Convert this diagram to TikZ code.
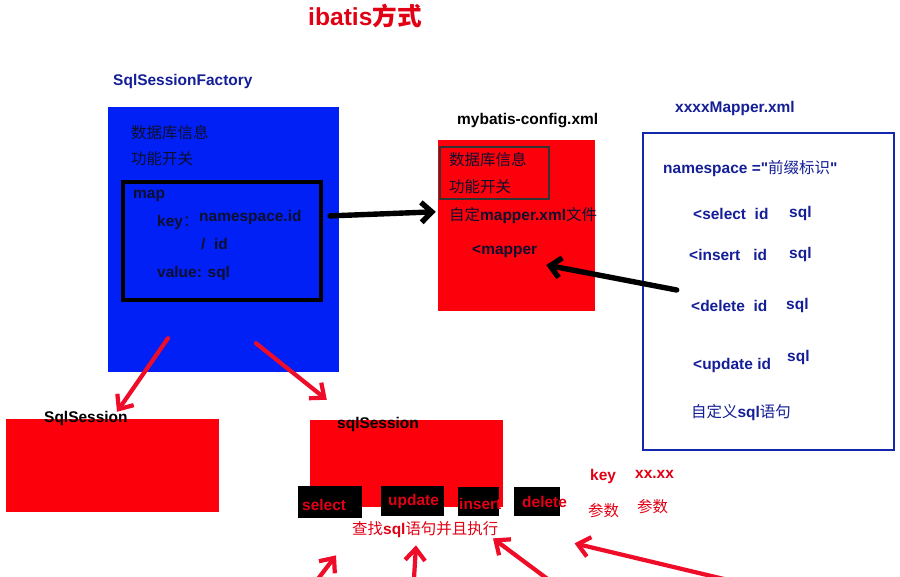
\documentclass[tikz,border=0pt]{standalone}
\usepackage{fontspec}
\setmainfont{Liberation Sans}[Ligatures=TeXOff]
\newfontfamily\cjk{Noto Sans CJK SC}
\usetikzlibrary{arrows.meta,fit,calc}
\newcommand\zh[1]{{\mdseries\cjk #1}}
\newcommand\zhb[1]{{\cjk\bfseries #1}}
\definecolor{bfill}{RGB}{0,32,245}
\definecolor{rfill}{RGB}{252,0,12}
\definecolor{dkblue}{RGB}{20,30,150}
\definecolor{outblue}{RGB}{20,40,175}
\definecolor{arrowred}{RGB}{238,12,40}
\definecolor{textred}{RGB}{225,0,20}
\definecolor{darktxt}{RGB}{15,15,45}
\tikzset{
  lbl/.style={anchor=west, inner sep=0pt, font=\fontsize{13.2}{15}\selectfont\bfseries},
  area/.style={inner sep=0pt, draw=none},
  blkarrow/.style={draw=black, line width=4.6pt, line cap=round, -{Straight Barb[length=9pt,width=17pt]}},
  redarrow/.style={draw=arrowred, line width=3.6pt, line cap=round, -{Straight Barb[length=10pt,width=17pt]}},
  opbox/.style={fill=black, inner sep=0pt, draw=none},
  optxt/.style={lbl, text=textred},
}
\begin{document}
\begin{tikzpicture}[x=0.03cm, y=-0.03cm]
\clip (0,0) rectangle (900,576);
\fill[white] (0,0) rectangle (900,576);

% title
\node[lbl, text=textred, font=\fontsize{21}{23}\selectfont\bfseries] (title) at (308,16) {ibatis\zhb{方式}};

% SqlSessionFactory
\node[lbl, text=dkblue] (sfLabel) at (113,81) {SqlSessionFactory};
\node[area, fill=bfill, fit={(108,107) (339,372)}] (sf) {};
\node[lbl, text=darktxt] (sfdb) at (131,133) {\zh{数据库信息}};
\node[lbl, text=darktxt] (sffn) at (131,159) {\zh{功能开关}};
\node[area, draw=black, line width=3.6pt, fit={(123,182) (321,300)}] (map) {};
\node[lbl, text=darktxt] (maplbl) at (133,196) {map};
\node[lbl, text=darktxt] (keylbl) at (157,222) {key\zh{：}};
\node[lbl, text=darktxt] (nsid) at (199,217) {namespace.id};
\node[lbl, text=darktxt] (slid) at (201,244) {/\ \ id};
\node[lbl, text=darktxt] (vallbl) at (157,273) {value: sql};

% mybatis-config.xml
\node[lbl, text=black] (cfgLabel) at (457,121) {mybatis-config.xml};
\node[area, fill=rfill, fit={(438,140) (595,311)}] (rc) {};
\node[area, draw=black!80, line width=1.4pt, fit={(440,147) (549,199)}] (rcin) {};
\node[lbl, text=darktxt] (rcdb) at (449,160) {\zh{数据库信息}};
\node[lbl, text=darktxt] (rcfn) at (449,187) {\zh{功能开关}};
\node[lbl, text=darktxt] (rcmx) at (449,216) {\zh{自定}mapper.xml\zh{文件}};
\node[lbl, text=darktxt] (rcmp) at (472,251) {<mapper};

% xxxxMapper.xml
\node[lbl, text=dkblue] (mxLabel) at (675,108) {xxxxMapper.xml};
\node[area, draw=outblue, line width=2.2pt, fit={(643,133) (894,450)}] (mx) {};
\node[lbl, text=dkblue] (ns) at (663,169) {namespace ="\zh{前缀标识}"};
\node[lbl, text=dkblue] (sel) at (693,214) {<select\ \ id};
\node[lbl, text=dkblue] (selsql) at (789,213) {sql};
\node[lbl, text=dkblue] (ins) at (689,255) {<insert\ \ \ id};
\node[lbl, text=dkblue] (inssql) at (789,254) {sql};
\node[lbl, text=dkblue] (del) at (691,306) {<delete\ \ id};
\node[lbl, text=dkblue] (delsql) at (786,305) {sql};
\node[lbl, text=dkblue] (upd) at (693,365) {<update id};
\node[lbl, text=dkblue] (updsql) at (787,357) {sql};
\node[lbl, text=dkblue] (custom) at (691,413) {\zh{自定义}sql\zh{语句}};

% sessions
\node[area, fill=rfill, fit={(6,419) (219,512)}] (ss1) {};
\node[lbl, text=black] (ss1lbl) at (44,418) {SqlSession};
\node[area, fill=rfill, fit={(310,420) (503,507)}] (ss2) {};
\node[lbl, text=black] (ss2lbl) at (337,424) {sqlSession};

% operation boxes
\node[opbox, fit={(298,486) (362,518)}] (bsel) {};
\node[opbox, fit={(381,486) (444,516)}] (bupd) {};
\node[opbox, fit={(458,487) (499,516)}] (bins) {};
\node[opbox, fit={(514,487) (560,516)}] (bdel) {};
\node[optxt] (tsel) at (302,505) {select};
\node[optxt] (tupd) at (388,501) {update};
\node[optxt] (tins) at (459,504) {insert};
\node[optxt] (tdel) at (522,502) {delete};

\node[lbl, text=textred] (find) at (352,530) {\zh{查找}sql\zh{语句并且执行}};

\node[lbl, text=textred] (keyr) at (590,476) {key};
\node[lbl, text=textred] (xxr) at (635,474) {xx.xx};
\node[lbl, text=textred] (par1) at (588,511) {\zh{参数}};
\node[lbl, text=textred] (par2) at (637,507) {\zh{参数}};

% black arrows
\draw[blkarrow] ($(map.north east)+(7,36)$) -- ($(rc.north west)+(-2,72)$);
\draw[blkarrow] ($(mx.west)+(35,-1.5)$) -- ($(rc.east)+(-49,39.5)$);

% red arrows from factory
\draw[redarrow] ($(sf.south)+(-55.5,-34)$) -- ($(ss1.north)+(4.5,-7)$);
\draw[redarrow] ($(sf.south)+(32.5,-29)$) -- ($(ss2.north west)+(17,-20)$);

% bottom red arrows
\coordinate (b1) at (308,592);
\coordinate (b2) at (413,595);
\coordinate (b3) at (565,592);
\coordinate (b4) at (770,590);
\draw[redarrow] (b1) -- ($(find.south west)+(-16,17)$);
\draw[redarrow] (b2) -- ($(find.south west)+(64,7)$);
\draw[redarrow] (b3) -- ($(find.south west)+(141,0)$);
\draw[redarrow] (b4) -- ($(find.south east)+(76,5)$);
\end{tikzpicture}
\end{document}
